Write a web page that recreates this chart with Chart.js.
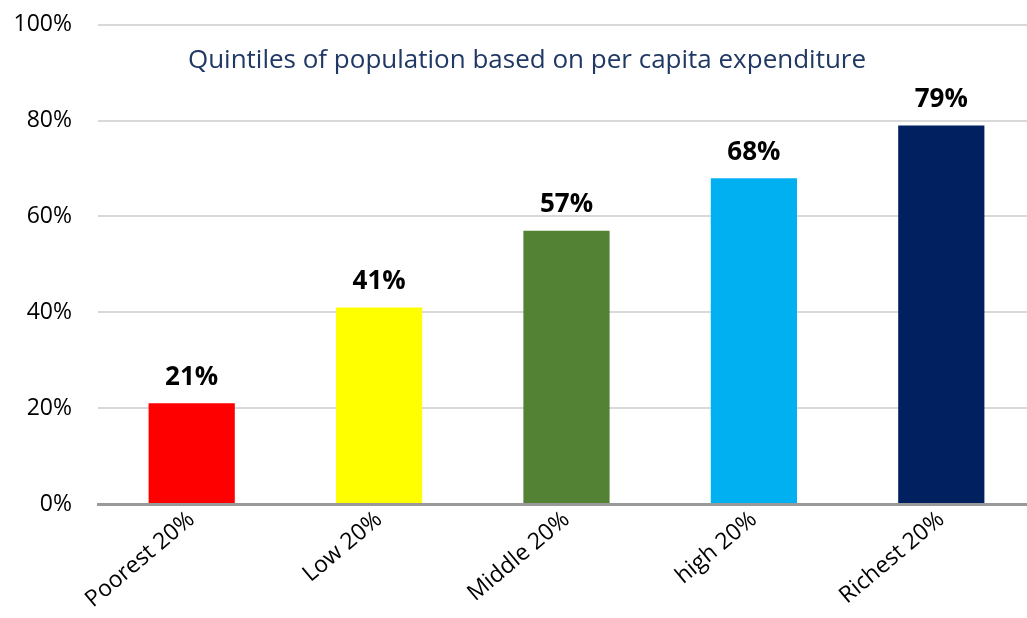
<!DOCTYPE html>
<html>
<head>
<meta charset="utf-8">
<script src="https://cdn.jsdelivr.net/npm/chart.js@4.4.0/dist/chart.umd.min.js"></script>
<style>
html,body{margin:0;padding:0;background:#fff;overflow:hidden;width:1027px;height:618px;}
#wrap{position:absolute;left:0;top:-15px;width:1040px;height:633px;}
</style>
</head>
<body>
<div id="wrap"><canvas id="c" width="1040" height="633"></canvas></div>
<script>
const categories = ["Poorest 20%", "Low 20%", "Middle 20%", "high 20%", "Richest 20%"];
const values = [21, 41, 57, 68, 79];
const barColors = ["#FF0000", "#FFFF00", "#548235", "#00B0F0", "#002060"];
const subtitle = "Quintiles of population based on per capita expenditure";
const yTicks = [0, 20, 40, 60, 80, 100];

const FONT = "'Open Sans', Lato, sans-serif";

const labelPlugin = {
  id: 'labels',
  afterDatasetsDraw(chart) {
    const ctx = chart.ctx;
    const meta = chart.getDatasetMeta(0);
    ctx.save();
    ctx.fillStyle = '#000';
    ctx.font = "bold 26px " + FONT;
    ctx.textAlign = 'center';
    ctx.textBaseline = 'middle';
    meta.data.forEach((bar, i) => {
      ctx.fillText(values[i] + '%', bar.x, bar.y - 26);
    });
    ctx.font = "26px " + FONT;
    ctx.fillStyle = '#1F3864';
    ctx.fillText(subtitle, 527, chart.scales.y.getPixelForValue(92.5));
    ctx.restore();
  }
};

new Chart(document.getElementById('c'), {
  type: 'bar',
  data: {
    labels: categories,
    datasets: [{
      data: values,
      backgroundColor: barColors,
      borderWidth: 0,
      barPercentage: 0.46,
      categoryPercentage: 1.0
    }]
  },
  options: {
    responsive: false,
    animation: false,
    layout: { padding: { top: 0, right: 5, left: 0, bottom: 0 } },
    plugins: { legend: { display: false }, tooltip: { enabled: false }, title: { display: false } },
    scales: {
      x: {
        grid: { display: false, drawTicks: false },
        border: { display: true, color: '#999999', width: 3 },
        afterFit(axis) { axis.height = 114; },
        ticks: {
          color: '#000',
          font: { family: FONT, size: 23 },
          maxRotation: 40, minRotation: 40,
          padding: 2
        }
      },
      y: {
        min: 0, max: 100,
        afterBuildTicks(axis) { axis.ticks = yTicks.map(v => ({ value: v })); },
        afterFit(axis) { axis.width = 98; },
        grid: { color: '#D9D9D9', lineWidth: 2, drawTicks: false },
        border: { display: false },
        ticks: {
          color: '#000',
          font: { family: FONT, size: 23 },
          padding: 26,
          callback: v => v + '%'
        }
      }
    }
  },
  plugins: [labelPlugin]
});
</script>
</body>
</html>
